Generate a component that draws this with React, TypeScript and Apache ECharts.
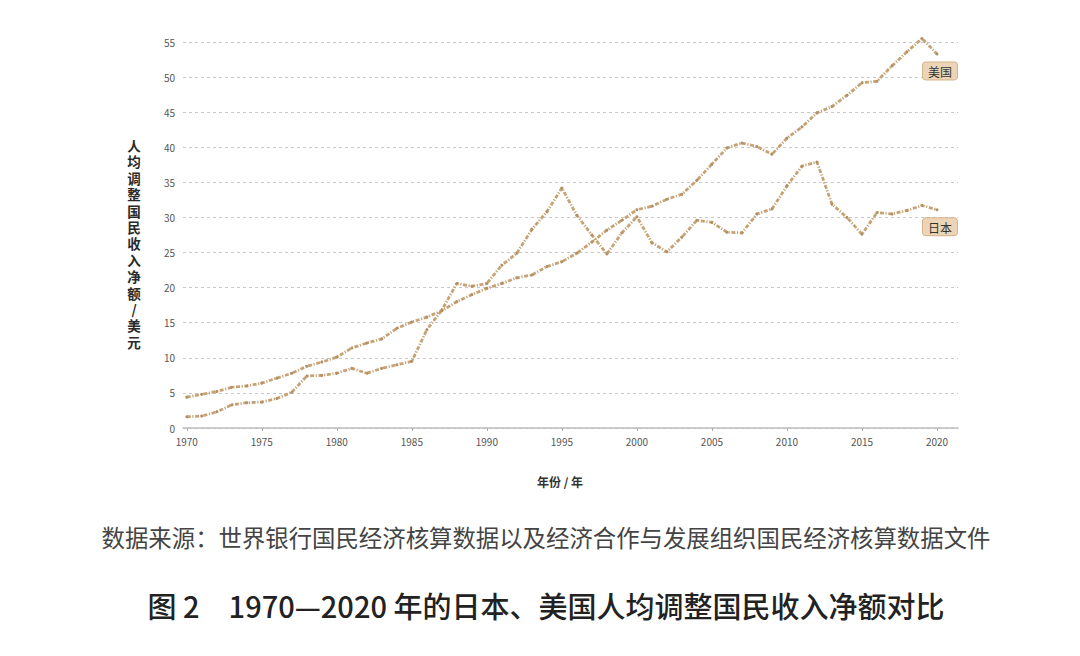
import React, { useEffect, useRef } from "react";
import * as echarts from "echarts";

const years: number[] = [];
for (let y = 1970; y <= 2020; y++) years.push(y);

const japan = [
  1.6, 1.7, 2.3, 3.3, 3.6, 3.7, 4.2, 5.1, 7.4, 7.5,
  7.8, 8.5, 7.8, 8.5, 9.0, 9.5, 14.0, 16.8, 20.6, 20.2,
  20.6, 23.2, 24.9, 28.3, 30.8, 34.2, 30.3, 27.5, 24.8, 27.8,
  30.1, 26.4, 25.1, 27.2, 29.6, 29.3, 27.9, 27.8, 30.5, 31.2,
  34.5, 37.3, 37.9, 31.9, 30.0, 27.6, 30.7, 30.5, 31.0, 31.7,
  31.1,
];

const usa = [
  4.4, 4.8, 5.2, 5.8, 6.0, 6.4, 7.1, 7.8, 8.8, 9.4,
  10.1, 11.4, 12.1, 12.7, 14.2, 15.1, 15.8, 16.7, 18.0, 19.0,
  19.9, 20.6, 21.4, 21.8, 23.0, 23.7, 24.9, 26.5, 28.2, 29.6,
  31.1, 31.6, 32.6, 33.3, 35.3, 37.6, 39.9, 40.6, 40.1, 39.0,
  41.3, 42.9, 44.9, 45.8, 47.4, 49.2, 49.4, 51.6, 53.6, 55.5,
  53.3,
];

const xTicks = [1970, 1975, 1980, 1985, 1990, 1995, 2000, 2005, 2010, 2015, 2020];
const seriesNames = ["日本", "美国"];
const yAxisName = "人均调整国民收入净额 / 美元";
const xAxisName = "年份 / 年";
const sourceText = "数据来源：世界银行国民经济核算数据以及经济合作与发展组织国民经济核算数据文件";
const captionText = "图 2　1970—2020 年的日本、美国人均调整国民收入净额对比";

const FONT = "'Noto Sans CJK SC', 'Noto Sans', sans-serif";
const LINE = "#c6a376";

function buildData(vals: number[]) {
  return vals.map((v, i) => {
    const item: any = { value: [years[i], v] };
    if (i === vals.length - 1) {
      item.label = {
        show: true,
        position: "bottom",
        distance: 7,
        offset: [3, 0],
        formatter: "{a}",
        fontFamily: FONT,
        fontSize: 12,
        color: "#333",
        backgroundColor: "#ecd5b6",
        borderColor: "#d3b38c",
        borderWidth: 1,
        borderRadius: 3,
        padding: [3, 5, 2, 5],
      };
    }
    return item;
  });
}

export default function App() {
  const ref = useRef<HTMLDivElement>(null);
  useEffect(() => {
    document.body.style.margin = "0";
    const chart = echarts.init(ref.current!, undefined, { renderer: "svg" });
    const lineSeries = (name: string, vals: number[]) => ({
      name,
      type: "line",
      data: buildData(vals),
      clip: false,
      symbol: "circle",
      symbolSize: 3,
      itemStyle: { color: "#b38f62" },
      lineStyle: { color: LINE, width: 2.8, type: [4, 1.6, 1.2, 1.6] },
      emphasis: { disabled: true },
    });
    const nameChars = yAxisName.replace(/ /g, "").split("");
    chart.setOption({
      animation: false,
      textStyle: { fontFamily: FONT },
      grid: { left: 183, right: 122, top: 42, bottom: 228 },
      xAxis: {
        type: "value",
        min: 1969.75,
        max: 2021.4,
        splitLine: { show: false },
        axisLine: { lineStyle: { color: "#bdbdbd", width: 1.5 } },
        axisTick: { show: true, customValues: xTicks, length: 3, lineStyle: { color: "#aaa" } },
        axisLabel: {
          customValues: xTicks,
          fontSize: 10,
          color: "#555",
          margin: 8,
          formatter: (v: number) => String(Math.round(v)),
        },
      },
      yAxis: {
        type: "value",
        min: 0,
        max: 55,
        interval: 5,
        axisLine: { show: false },
        axisTick: { show: false },
        axisLabel: { fontSize: 10, color: "#555", margin: 8 },
        splitLine: { lineStyle: { color: "#c8c8c8", type: [3, 3] } },
      },
      series: [lineSeries(seriesNames[0], japan), lineSeries(seriesNames[1], usa)],
      graphic: [
        ...nameChars.map((c, i) => ({
          type: "text",
          x: 134,
          y: 145 + i * 16.4,
          style: {
            text: c,
            fontFamily: FONT,
            fontSize: 13.5,
            fontWeight: "bold",
            fill: "#2a2a2a",
            align: "center",
            verticalAlign: "middle",
          },
        })),
        {
          type: "text",
          x: 560,
          y: 481,
          style: {
            text: xAxisName,
            fontFamily: FONT,
            fontSize: 12,
            fontWeight: "bold",
            fill: "#333",
            align: "center",
            verticalAlign: "middle",
          },
        },
        {
          type: "text",
          x: 546,
          y: 537,
          style: {
            text: sourceText,
            fontFamily: FONT,
            fontSize: 23.4,
            fill: "#444",
            align: "center",
            verticalAlign: "middle",
          },
        },
        {
          type: "text",
          x: 546,
          y: 605,
          style: {
            text: captionText,
            fontFamily: FONT,
            fontSize: 29,
            fontWeight: 500,
            fill: "#222",
            align: "center",
            verticalAlign: "middle",
          },
        },
      ],
    });
    return () => chart.dispose();
  }, []);
  return <div ref={ref} style={{ width: 1080, height: 656 }} />;
}
